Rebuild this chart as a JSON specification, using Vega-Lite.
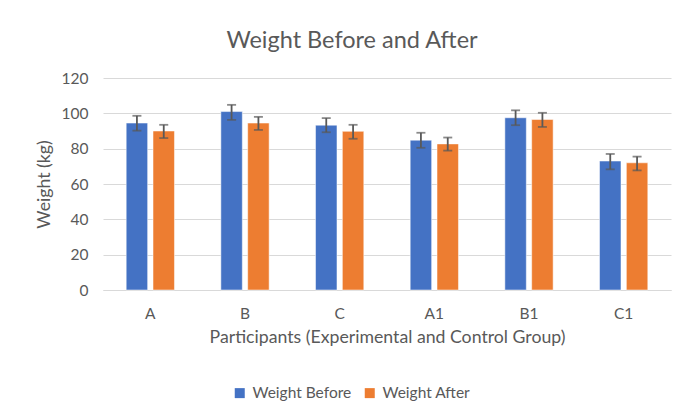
{
  "$schema": "https://vega.github.io/schema/vega-lite/v6.json",
  "autosize": {"type": "none"},
  "width": 568,
  "height": 212,
  "padding": {"left": 103, "top": 78, "right": 14, "bottom": 129},
  "background": "white",
  "config": {
    "view": {"stroke": null},
    "axisY": {
      "labelOverlap": false,
      "labelFont": "Lato",
      "labelFontSize": 15.5,
      "labelColor": "#595959",
      "labelPadding": 15,
      "titleFont": "Lato",
      "titleFontSize": 17.7,
      "titleFontWeight": "normal",
      "titleColor": "#595959",
      "titlePadding": 8,
      "ticks": false,
      "domain": false,
      "gridColor": "#D9D9D9",
      "gridWidth": 1
    }
  },
  "title": {
    "text": "Weight Before and After",
    "font": "Lato",
    "fontSize": 23.5,
    "fontWeight": "normal",
    "color": "#595959",
    "anchor": "middle",
    "dx": -35,
    "offset": 19
  },
  "data": {
    "values": [
      {"participant": "A", "group": "Weight Before", "weight": 94.5, "lo": 90.2, "hi": 98.6},
      {"participant": "A", "group": "Weight After", "weight": 90, "lo": 86, "hi": 93.5},
      {"participant": "B", "group": "Weight Before", "weight": 101, "lo": 96.3, "hi": 104.8},
      {"participant": "B", "group": "Weight After", "weight": 94.5, "lo": 90.6, "hi": 98},
      {"participant": "C", "group": "Weight Before", "weight": 93.3, "lo": 89.3, "hi": 97.3},
      {"participant": "C", "group": "Weight After", "weight": 89.8, "lo": 85.6, "hi": 93.5},
      {"participant": "A1", "group": "Weight Before", "weight": 84.8, "lo": 80.5, "hi": 89},
      {"participant": "A1", "group": "Weight After", "weight": 82.7, "lo": 78.9, "hi": 86.3},
      {"participant": "B1", "group": "Weight Before", "weight": 97.5, "lo": 93.3, "hi": 101.7},
      {"participant": "B1", "group": "Weight After", "weight": 96.5, "lo": 92.3, "hi": 100.3},
      {"participant": "C1", "group": "Weight Before", "weight": 73, "lo": 68.3, "hi": 77},
      {"participant": "C1", "group": "Weight After", "weight": 72, "lo": 67.7, "hi": 75.5}
    ]
  },
  "encoding": {
    "x": {
      "field": "participant",
      "type": "nominal",
      "sort": ["A", "B", "C", "A1", "B1", "C1"],
      "scale": {"paddingInner": 0.49, "paddingOuter": 0.245},
      "axis": {
        "title": "Participants (Experimental and Control Group)",
        "labelAngle": 0,
        "labelFont": "Lato",
        "labelFontSize": 15.5,
        "labelColor": "#595959",
        "labelPadding": 16,
        "titleFont": "Lato",
        "titleFontSize": 17.7,
        "titleFontWeight": "normal",
        "titleColor": "#595959",
        "titlePadding": 7,
        "ticks": false,
        "domainColor": "#D9D9D9",
        "domainWidth": 1,
        "grid": false
      }
    },
    "xOffset": {
      "field": "group",
      "type": "nominal",
      "sort": ["Weight Before", "Weight After"],
      "scale": {"paddingInner": 0.2, "paddingOuter": 0}
    }
  },
  "layer": [
    {
      "mark": {"type": "bar", "stroke": "white", "strokeWidth": 1, "strokeOpacity": 0.5},
      "encoding": {
        "y": {
          "field": "weight",
          "type": "quantitative",
          "scale": {"domain": [0, 120]},
          "axis": {"title": "Weight (kg)", "values": [0, 20, 40, 60, 80, 100, 120]}
        },
        "color": {
          "field": "group",
          "type": "nominal",
          "scale": {"domain": ["Weight Before", "Weight After"], "range": ["#4472C4", "#ED7D31"]},
          "legend": {
            "title": null,
            "orient": "none",
            "direction": "horizontal",
            "legendX": 129,
            "legendY": 307,
            "symbolType": "square",
            "symbolSize": 100,
            "symbolStrokeWidth": 0,
            "labelFont": "Lato",
            "labelFontSize": 15.5,
            "labelColor": "#595959",
            "labelOffset": 5,
            "columnSpacing": 20
          }
        }
      }
    },
    {
      "mark": {"type": "rule", "color": "#595959", "strokeWidth": 1.8},
      "encoding": {
        "y": {"field": "lo", "type": "quantitative", "axis": {"title": "Weight (kg)", "values": [0, 20, 40, 60, 80, 100, 120]}},
        "y2": {"field": "hi"}
      }
    },
    {
      "mark": {"type": "tick", "color": "#595959", "size": 9, "thickness": 1.8},
      "encoding": {
        "y": {"field": "lo", "type": "quantitative", "axis": {"title": "Weight (kg)", "values": [0, 20, 40, 60, 80, 100, 120]}}
      }
    },
    {
      "mark": {"type": "tick", "color": "#595959", "size": 9, "thickness": 1.8},
      "encoding": {
        "y": {"field": "hi", "type": "quantitative", "axis": {"title": "Weight (kg)", "values": [0, 20, 40, 60, 80, 100, 120]}}
      }
    }
  ]
}
